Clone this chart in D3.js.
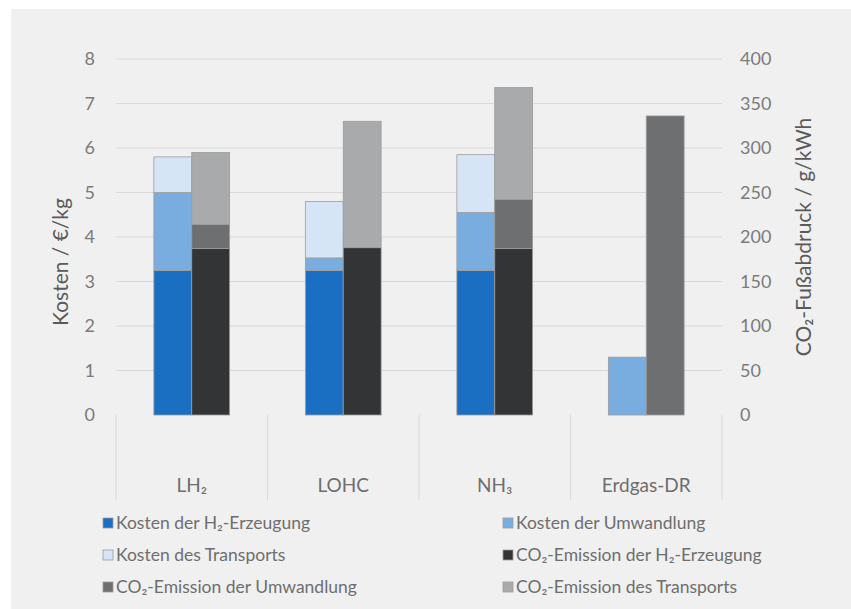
<!DOCTYPE html>
<html>
<head>
<meta charset="utf-8">
<script src="https://cdn.jsdelivr.net/npm/d3@7"></script>
<style>
  html, body { margin: 0; padding: 0; background: #ffffff; }
  svg { display: block; }
  text { font-family: Lato, "Open Sans", "Noto Sans", sans-serif; }
</style>
</head>
<body>
<svg id="chart" width="851" height="609"></svg>
<script>
// Categories (hydrogen carriers / reference)
const categories = ["LH₂", "LOHC", "NH₃", "Erdgas-DR"];

// Costs in €/kg (left axis)
const costProduction = [3.25, 3.25, 3.25, 0];
const costConversion = [1.75, 0.28, 1.3, 1.3];
const costTransport  = [0.8, 1.27, 1.3, 0];

// CO₂ footprint in g/kWh (right axis)
const co2Production = [187, 188, 187, 0];
const co2Conversion = [27, 0, 55, 336];
const co2Transport  = [81, 142, 126, 0];

const leftTicks  = [0, 1, 2, 3, 4, 5, 6, 7, 8];
const rightTicks = [0, 50, 100, 150, 200, 250, 300, 350, 400];

const seriesInfo = [
  { name: "Kosten der H₂-Erzeugung",        group: "cost", values: costProduction, color: "#1a6fc2" },
  { name: "Kosten der Umwandlung",          group: "cost", values: costConversion, color: "#7aaddf" },
  { name: "Kosten des Transports",          group: "cost", values: costTransport,  color: "#d5e5f5" },
  { name: "CO₂-Emission der H₂-Erzeugung",  group: "co2",  values: co2Production,  color: "#333435" },
  { name: "CO₂-Emission der Umwandlung",    group: "co2",  values: co2Conversion,  color: "#6d6f71" },
  { name: "CO₂-Emission des Transports",    group: "co2",  values: co2Transport,   color: "#a8aaac" }
];

const svg = d3.select("#chart");

// Panel background
svg.append("rect").attr("x", 11).attr("y", 9).attr("width", 840).attr("height", 600)
  .attr("fill", "#f0f0f0");

const plot = { left: 116, right: 722, top: 59, bottom: 415 };

const x0 = d3.scaleBand().domain(categories)
  .range([plot.left, plot.right]).paddingInner(0.5).paddingOuter(0.25);
const x1 = d3.scaleBand().domain(["cost", "co2"]).range([0, x0.bandwidth()]).padding(0);
const yCost = d3.scaleLinear().domain([0, 8]).range([plot.bottom, plot.top]);
const yCo2  = d3.scaleLinear().domain([0, 400]).range([plot.bottom, plot.top]);

// Horizontal gridlines
svg.append("g").selectAll("line").data(leftTicks.filter(d => d > 0)).join("line")
  .attr("x1", plot.left).attr("x2", plot.right)
  .attr("y1", d => yCost(d)).attr("y2", d => yCost(d))
  .attr("stroke", "#d9d9d9").attr("stroke-width", 1);

// Left axis labels
const leftAxis = d3.axisLeft(yCost).tickValues(leftTicks).tickSize(0).tickPadding(0).tickFormat(d3.format("d"));
const gl = svg.append("g").attr("transform", `translate(95,0)`).call(leftAxis);
gl.select(".domain").remove();
gl.selectAll("text").attr("fill", "#7b7b7b").attr("font-size", 18);

// Right axis labels
const rightAxis = d3.axisRight(yCo2).tickValues(rightTicks).tickSize(0).tickPadding(0).tickFormat(d3.format("d"));
const gr = svg.append("g").attr("transform", `translate(740,0)`).call(rightAxis);
gr.select(".domain").remove();
gr.selectAll("text").attr("fill", "#7b7b7b").attr("font-size", 18);

// Axis titles
svg.append("text").attr("transform", `translate(68,262) rotate(-90)`)
  .attr("text-anchor", "middle").attr("font-size", 21).attr("fill", "#5a5a5a")
  .text("Kosten / €/kg");
svg.append("text").attr("transform", `translate(811,${(plot.top + plot.bottom) / 2}) rotate(-90)`)
  .attr("text-anchor", "middle").attr("font-size", 21).attr("fill", "#5a5a5a")
  .text("CO₂-Fußabdruck / g/kWh");

// Category separators below the axis
const bounds = [plot.left].concat(categories.map(c => x0(c) + x0.bandwidth() / 2 + x0.step() / 2));
svg.append("g").selectAll("line").data(bounds).join("line")
  .attr("x1", d => d).attr("x2", d => d)
  .attr("y1", plot.bottom).attr("y2", 500)
  .attr("stroke", "#d9d9d9").attr("stroke-width", 1);

// Category labels
svg.append("g").selectAll("text").data(categories).join("text")
  .attr("x", d => x0(d) + x0.bandwidth() / 2).attr("y", 492)
  .attr("text-anchor", "middle").attr("font-size", 19).attr("fill", "#6e6e6e")
  .text(d => d);

// Stacked bars
["cost", "co2"].forEach(group => {
  const ser = seriesInfo.filter(s => s.group === group);
  const yScale = group === "cost" ? yCost : yCo2;
  const rows = categories.map((c, i) => {
    const r = { category: c };
    ser.forEach(s => { r[s.name] = s.values[i]; });
    return r;
  });
  const stacked = d3.stack().keys(ser.map(s => s.name))(rows);
  stacked.forEach((layer, li) => {
    svg.append("g").selectAll("rect").data(layer.filter(d => d[1] - d[0] > 0)).join("rect")
      .attr("x", d => x0(d.data.category) + x1(group))
      .attr("width", x1.bandwidth())
      .attr("y", d => yScale(d[1]))
      .attr("height", d => yScale(d[0]) - yScale(d[1]))
      .attr("fill", ser[li].color)
      .attr("stroke", "#9c9c9c").attr("stroke-width", 0.8);
  });
});

// Legend
const legendCols = [103, 503];
const legendRows = [523, 555, 587];
const lg = svg.append("g").selectAll("g").data(seriesInfo).join("g")
  .attr("transform", (d, i) => `translate(${legendCols[i % 2]},${legendRows[Math.floor(i / 2)]})`);
lg.append("rect").attr("x", 0).attr("y", -5).attr("width", 10).attr("height", 10)
  .attr("fill", d => d.color).attr("stroke", "#9c9c9c").attr("stroke-width", 0.8);
lg.append("text").attr("x", 13).attr("y", 0).attr("dy", "0.35em")
  .attr("font-size", 17.5).attr("fill", "#6e6e6e").text(d => d.name);
</script>
</body>
</html>
